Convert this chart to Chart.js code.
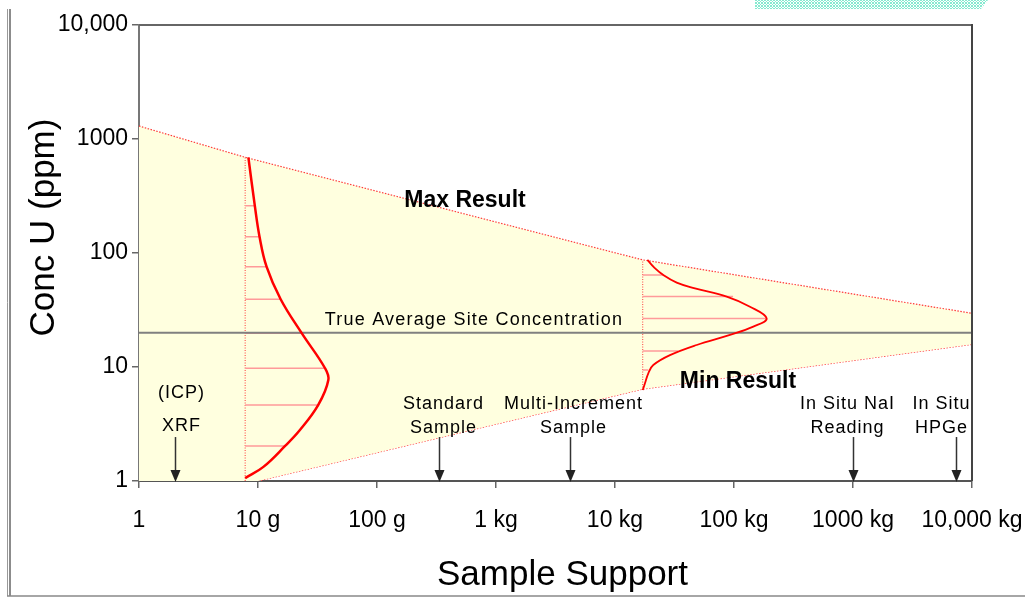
<!DOCTYPE html>
<html>
<head>
<meta charset="utf-8">
<script src="https://cdn.jsdelivr.net/npm/chart.js@4.4.0/dist/chart.umd.min.js"></script>
<style>
  html, body { margin: 0; padding: 0; background: #fff; }
</style>
</head>
<body>
<canvas id="myChart" width="1025" height="598"></canvas>
<script>
// sample support in grams, concentration in ppm
var xTicks = [1, 10, 100, 1000, 10000, 100000, 1000000, 10000000];
var xTickLabels = ['1', '10 g', '100 g', '1 kg', '10 kg', '100 kg', '1000 kg', '10,000 kg'];
var yTicks = [1, 10, 100, 1000, 10000];
var yTickLabels = ['1', '10', '100', '1000', '10,000'];

// envelope of possible results
var maxX = [1, 7.8, 17100, 10000000];
var maxY = [1300, 691, 87, 29.6];
var minX = [1, 10, 17100, 10000000];
var minY = [1, 1, 6.4, 15.8];

var trueAvg = 20;

// spread of results for a small (~8 g) sample
var dist1Base = 7.8;
var dist1X = [8.3, 9.4, 10.3, 11.8, 15.5, 23.3, 36.6, 39.0, 32.1, 22.5, 16.9, 11.1, 7.8];
var dist1Y = [691, 260, 139, 75.9, 39.3, 19.8, 9.75, 7.69, 4.65, 2.80, 2.03, 1.33, 1.06];
var hatch1Y = [260, 139, 75.9, 39.3, 19.8, 9.75, 4.65, 2.03];
var hatch1X = [9.4, 10.3, 11.8, 15.5, 23.3, 36.6, 32.1, 16.9];

// spread of results for a ~17 kg sample
var dist2Base = 17100;
var dist2X = [18700, 21500, 25470, 33000, 47000, 86900, 136200, 188200, 145300, 92500, 48600, 28970, 20980, 19050, 17860, 17100];
var dist2Y = [86.9, 74, 64.1, 55, 49.0, 41.4, 33.8, 26.7, 22.6, 19.1, 15.6, 12.7, 10.4, 8.81, 7.19, 6.28];
var hatch2Y = [64.1, 41.5, 26.7, 20, 13.8, 9.41];
var hatch2X = [25470, 98200, 188000, 92500, 33800, 19050];

// measurement methods, arrows on the x axis
var methodX = [2, 332, 4190, 1000000, 7340000];
var methodLabels = [['(ICP)', 'XRF'], ['Standard', 'Sample'], ['Multi-Increment', 'Sample'], ['In Situ NaI', 'Reading'], ['In Situ', 'HPGe']];

function pts(xs, ys) {
  return xs.map(function (x, i) { return { x: x, y: ys[i] }; });
}
function hatch(base, xs, ys) {
  var out = [];
  ys.forEach(function (y, i) {
    out.push({ x: base, y: y }, { x: xs[i], y: y }, { x: base, y: null });
  });
  return out;
}

var RED = '#ff0000';
var DOT_RED = '#ff3a3a';
var HATCH = '#ff9a9a';

var decor = {
  id: 'decor',
  beforeDraw: function (chart) {
    var c = chart.ctx;
    c.save();
    c.fillStyle = '#fff';
    c.fillRect(0, 0, chart.width, chart.height);
    // page frame
    c.strokeStyle = '#999';
    c.lineWidth = 1;
    c.beginPath(); c.moveTo(7.5, 9); c.lineTo(7.5, 596); c.stroke();
    c.strokeStyle = '#666';
    c.lineWidth = 1.5;
    c.beginPath(); c.moveTo(10, 9); c.lineTo(10, 596); c.stroke();
    c.strokeStyle = '#888';
    c.beginPath(); c.moveTo(7, 596); c.lineTo(1025, 596); c.stroke();
    // faint teal strip top right
    var p = document.createElement('canvas');
    p.width = 3; p.height = 3;
    var pc = p.getContext('2d');
    pc.fillStyle = '#86ead0';
    pc.fillRect(0, 0, 1, 1); pc.fillRect(2, 0, 1, 1); pc.fillRect(1, 1, 1, 1); pc.fillRect(0, 2, 1, 1); pc.fillRect(2, 2, 1, 1);
    c.fillStyle = c.createPattern(p, 'repeat');
    c.beginPath(); c.moveTo(755, 0); c.lineTo(988, 0); c.lineTo(981, 9); c.lineTo(755, 9); c.closePath(); c.fill();
    c.restore();
  },
  afterDraw: function (chart) {
    var c = chart.ctx, a = chart.chartArea;
    var xs = chart.scales.x, ys = chart.scales.y;
    c.save();
    // top and right border of the plot box
    c.strokeStyle = '#666';
    c.lineWidth = 2;
    c.beginPath(); c.moveTo(a.left, a.top); c.lineTo(a.right, a.top); c.stroke();
    c.strokeStyle = '#444';
    c.beginPath(); c.moveTo(a.right, a.top - 1); c.lineTo(a.right, a.bottom); c.stroke();

    c.fillStyle = '#000';
    c.textAlign = 'center';
    c.textBaseline = 'middle';
    c.font = 'bold 23px "Liberation Sans", Arial, sans-serif';
    c.fillText('Max Result', xs.getPixelForValue(549), ys.getPixelForValue(286));
    c.fillText('Min Result', xs.getPixelForValue(108000), ys.getPixelForValue(7.38));
    c.font = '18px "Liberation Sans", Arial, sans-serif';
    c.letterSpacing = '1.2px';
    c.fillText('True Average Site Concentration', xs.getPixelForValue(653), ys.getPixelForValue(25.8));

    // methods with arrows
    var lineY = [[5.9, 3.04], [4.73, 2.92], [4.73, 2.92], [4.73, 2.92], [4.73, 2.92]];
    var shift = [6, 4, 3, -6, -15];
    c.letterSpacing = '1px';
    methodX.forEach(function (v, i) {
      var px = Math.round(xs.getPixelForValue(v)) + 0.5;
      methodLabels[i].forEach(function (t, k) {
        c.fillText(t, px + shift[i], ys.getPixelForValue(lineY[i][k]));
      });
      var top = ys.getPixelForValue(2.43);
      c.strokeStyle = '#333';
      c.lineWidth = 1.5;
      c.beginPath(); c.moveTo(px, top); c.lineTo(px, a.bottom - 9); c.stroke();
      c.fillStyle = '#222';
      c.beginPath(); c.moveTo(px - 5, a.bottom - 11); c.lineTo(px + 5, a.bottom - 11); c.lineTo(px, a.bottom + 1); c.closePath(); c.fill();
      c.fillStyle = '#000';
    });

    // axis titles
    c.letterSpacing = '0px';
    c.textBaseline = 'alphabetic';
    c.font = '35px "Liberation Sans", Arial, sans-serif';
    c.fillText('Sample Support', 562.5, 585);
    c.translate(54, 227.5);
    c.rotate(-Math.PI / 2);
    c.fillText('Conc U (ppm)', 0, 0);
    c.restore();
  }
};

var ctx = document.getElementById('myChart').getContext('2d');
var myChart = new Chart(ctx, {
  type: 'line',
  data: {
    datasets: [
      { data: pts(dist1X, dist1Y), borderColor: RED, borderWidth: 2.5, tension: 0.4 },
      { data: pts(dist2X, dist2Y), borderColor: RED, borderWidth: 1.8, tension: 0.4 },
      { data: pts([1, 10000000], [trueAvg, trueAvg]), borderColor: '#808080', borderWidth: 2 },
      { data: hatch(dist1Base, hatch1X, hatch1Y), borderColor: HATCH, borderWidth: 1.5, spanGaps: false },
      { data: hatch(dist2Base, hatch2X, hatch2Y), borderColor: HATCH, borderWidth: 1.5, spanGaps: false },
      { data: pts([dist1Base, dist1Base], [1, dist1Y[0]]), borderColor: DOT_RED, borderWidth: 1, borderDash: [1, 1.5] },
      { data: pts([dist2Base, dist2Base], [dist2Y[dist2Y.length - 1], dist2Y[0]]), borderColor: DOT_RED, borderWidth: 1, borderDash: [1, 1.5] },
      { data: pts(maxX, maxY), borderColor: DOT_RED, borderWidth: 1.2, borderDash: [1.5, 1.5],
        fill: '+1', backgroundColor: '#ffffdf' },
      { data: pts(minX, minY), borderColor: DOT_RED, borderWidth: 1.2, borderDash: [1.5, 1.5],
        segment: { borderColor: function (s) { return s.p1.parsed.x <= 10 ? 'rgba(0,0,0,0)' : undefined; } } }
    ]
  },
  options: {
    responsive: false,
    animation: false,
    devicePixelRatio: 1,
    elements: { point: { radius: 0 } },
    layout: { padding: { top: 25, right: 53, left: 0, bottom: 0 } },
    plugins: { legend: { display: false }, tooltip: { enabled: false } },
    scales: {
      x: {
        type: 'logarithmic',
        position: 'bottom',
        min: 1, max: 10000000,
        afterBuildTicks: function (s) { s.ticks = xTicks.map(function (v) { return { value: v }; }); },
        afterFit: function (s) { s.height = 117; s.paddingLeft = 0; s.paddingRight = 0; },
        grid: { drawOnChartArea: false, drawTicks: true, tickLength: 7, color: '#666', lineWidth: 1.5 },
        border: { display: true, color: '#555', width: 2 },
        ticks: {
          autoSkip: false, maxRotation: 0, minRotation: 0, padding: 19, color: '#000',
          font: { size: 23, family: '"Liberation Sans", Arial, sans-serif' },
          callback: function (v) { return xTickLabels[xTicks.indexOf(v)]; }
        }
      },
      y: {
        type: 'logarithmic',
        min: 1, max: 10000,
        afterBuildTicks: function (s) { s.ticks = yTicks.map(function (v) { return { value: v }; }); },
        afterFit: function (s) { s.width = 139; s.paddingTop = 0; s.paddingBottom = 0; },
        grid: { drawOnChartArea: false, drawTicks: true, tickLength: 7, color: '#666', lineWidth: 1.5 },
        border: { display: true, color: '#777', width: 2 },
        ticks: {
          autoSkip: false, padding: 4, color: '#000',
          font: { size: 23, family: '"Liberation Sans", Arial, sans-serif' },
          callback: function (v) { return yTickLabels[yTicks.indexOf(v)]; }
        }
      }
    }
  },
  plugins: [decor]
});
</script>
</body>
</html>
